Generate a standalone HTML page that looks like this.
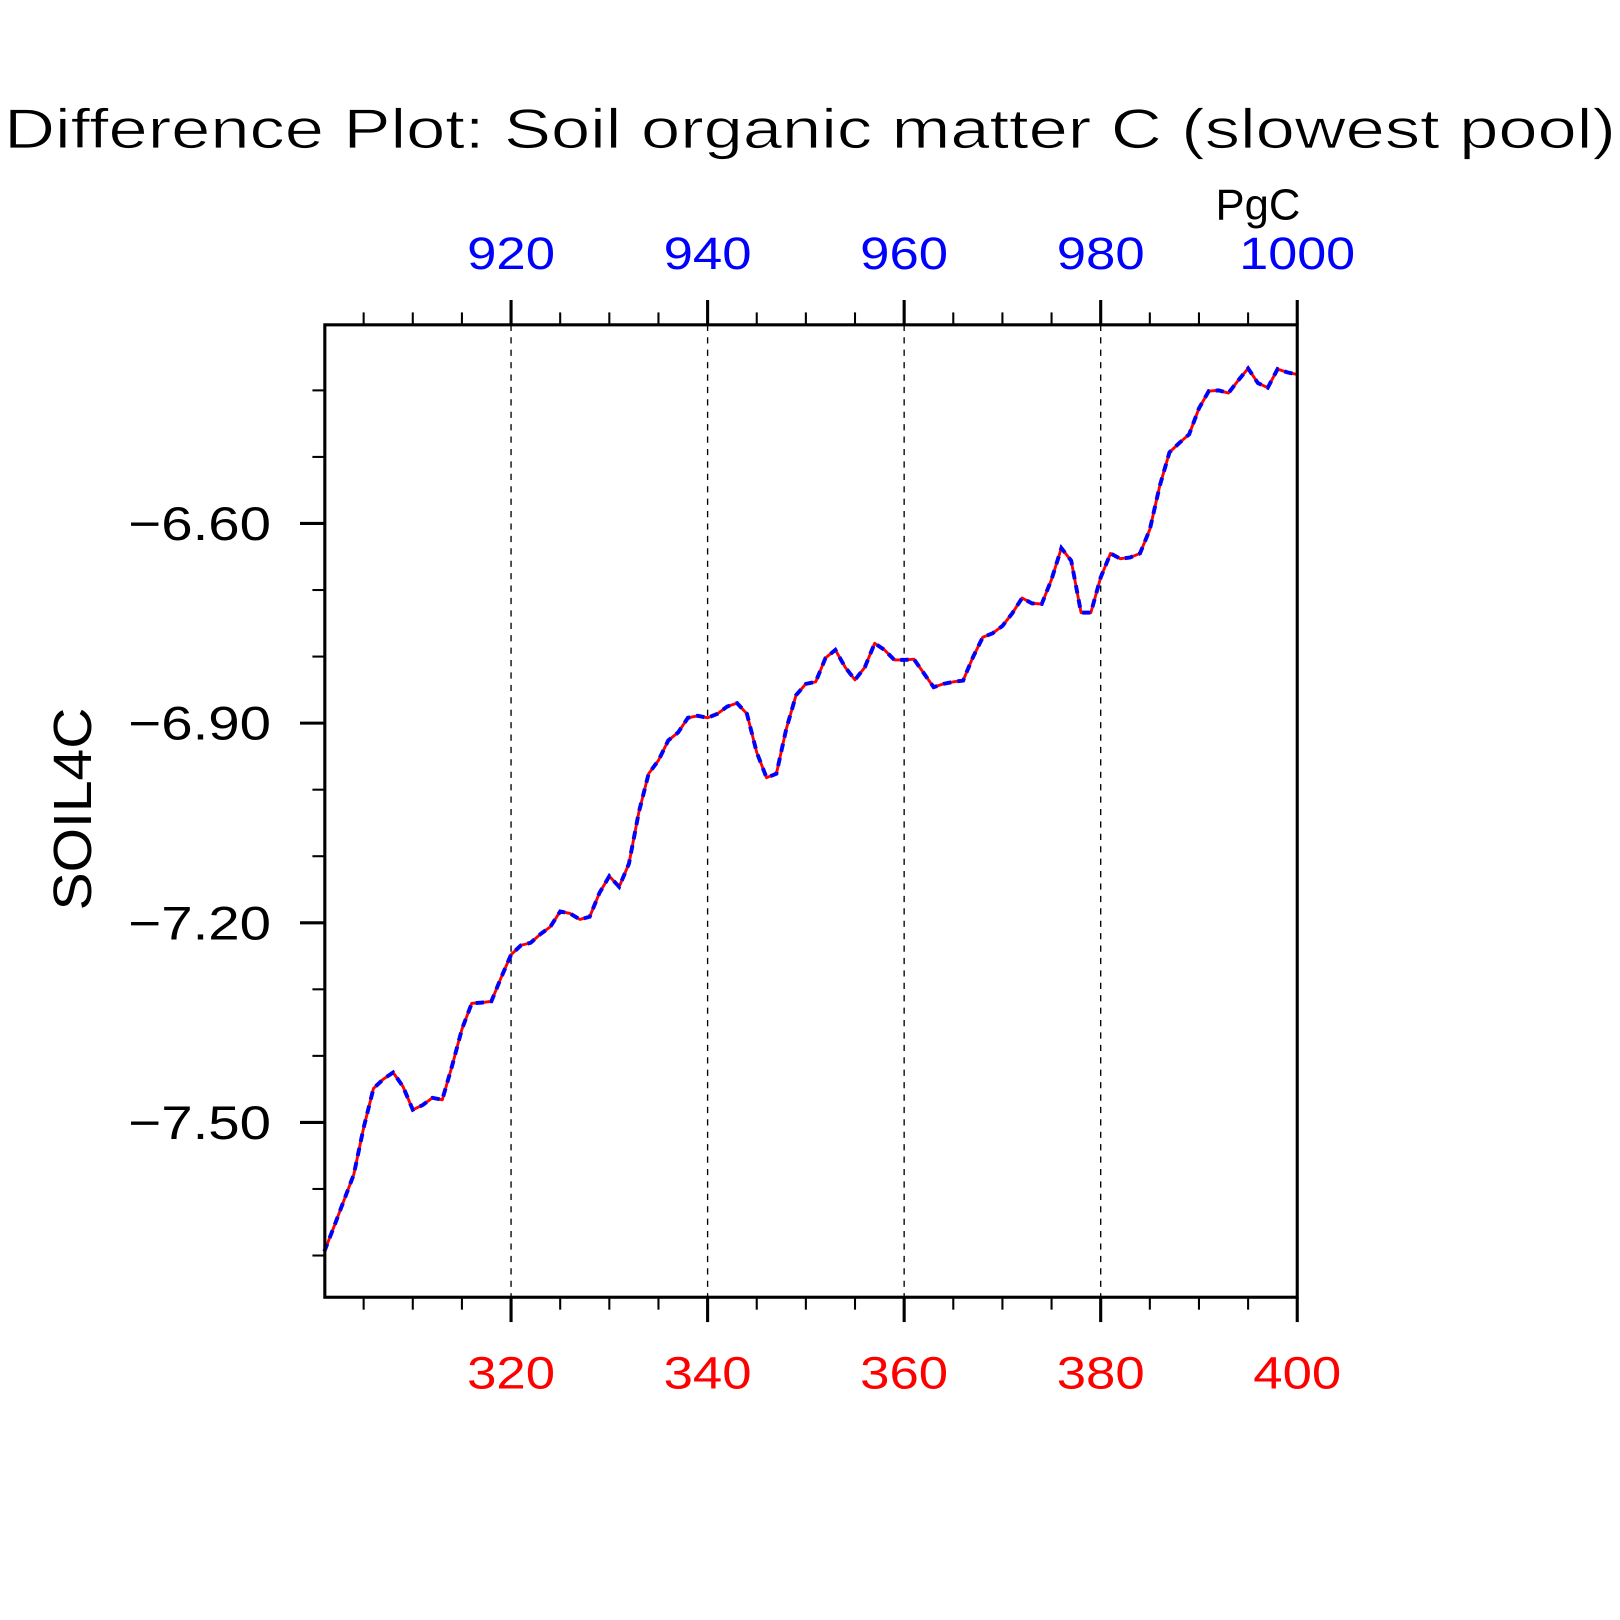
<!DOCTYPE html>
<html><head><meta charset="utf-8"><style>
html,body{margin:0;padding:0;background:#fff;}
svg{display:block;}
text{font-family:"Liberation Sans",sans-serif;}
</style></head><body>
<svg id="chart" width="1620" height="1620" viewBox="0 0 1566 1566" xmlns="http://www.w3.org/2000/svg">
<text x="4" y="143" font-size="54" textLength="1558" lengthAdjust="spacingAndGlyphs" fill="#000" stroke="#fff" stroke-width="0.8">Difference Plot: Soil organic matter C (slowest pool)</text>
<text x="1175" y="212" font-size="42" textLength="82" lengthAdjust="spacingAndGlyphs" fill="#000">PgC</text>
<text transform="translate(88,782) rotate(-90)" text-anchor="middle" font-size="52" textLength="196" lengthAdjust="spacingAndGlyphs" fill="#000">SOIL4C</text>
<g id="grid"></g>
<g id="ticks"></g>
<g id="series"></g>
<rect x="314" y="314" width="940" height="940" fill="none" stroke="#000" stroke-width="3"/>
</svg>
<script>
const years = [];
for (let y = 301; y <= 400; y++) years.push(y);
const soilValues = [-7.694,-7.656,-7.617,-7.578,-7.508,-7.449,-7.435,-7.425,-7.446,-7.481,
-7.474,-7.463,-7.466,-7.415,-7.360,-7.321,-7.320,-7.318,-7.282,-7.248,
-7.234,-7.230,-7.217,-7.206,-7.183,-7.186,-7.195,-7.191,-7.155,-7.130,
-7.146,-7.111,-7.034,-6.976,-6.956,-6.926,-6.914,-6.892,-6.889,-6.892,
-6.886,-6.875,-6.870,-6.886,-6.944,-6.982,-6.976,-6.909,-6.858,-6.841,
-6.838,-6.802,-6.790,-6.816,-6.835,-6.816,-6.780,-6.790,-6.805,-6.805,
-6.804,-6.825,-6.846,-6.841,-6.838,-6.836,-6.801,-6.771,-6.765,-6.754,
-6.735,-6.712,-6.720,-6.721,-6.684,-6.637,-6.656,-6.734,-6.734,-6.681,
-6.645,-6.653,-6.651,-6.645,-6.609,-6.544,-6.493,-6.479,-6.466,-6.427,
-6.401,-6.400,-6.404,-6.385,-6.367,-6.389,-6.396,-6.368,-6.373,-6.376];
const bottomTicks = [320,340,360,380,400];
const topTicks = [920,940,960,980,1000];
const yTicks = [-6.60,-6.90,-7.20,-7.50];
const yTickLabels = ["\u22126.60","\u22126.90","\u22127.20","\u22127.50"];

const X0=314,X1=1254,Y0=314,Y1=1254;
const xMin=301.05,xMax=400,yTop=-6.3015,yBot=-7.7627;
const xs=v=>X0+(v-xMin)/(xMax-xMin)*(X1-X0);
const xsTop=v=>xs(v-600);
const ys=v=>Y0+(yTop-v)/(yTop-yBot)*(Y1-Y0);
const NS="http://www.w3.org/2000/svg";
function mk(tag,attrs,parent){const e=document.createElementNS(NS,tag);for(const k in attrs)e.setAttribute(k,attrs[k]);parent.appendChild(e);return e;}
const grid=document.getElementById('grid'),ticks=document.getElementById('ticks'),series=document.getElementById('series'),svg=document.getElementById('chart');

bottomTicks.forEach((t,i)=>{
  const x=xs(t);
  if(t<400){const g=mk('line',{x1:x,x2:x,y1:Y0,y2:Y1,stroke:'#000','stroke-width':1.3,'stroke-dasharray':'6,6'},grid);
  
  }
  const lb=mk('text',{x:x,y:1342,'text-anchor':'middle','font-size':44,fill:'#ff0000',textLength:85,lengthAdjust:'spacingAndGlyphs'},svg);
  
  
  lb.textContent=t;
});
topTicks.forEach(t=>{
  const len=String(t).length===4?112:85;
  const lb=mk('text',{x:xsTop(t),y:260,'text-anchor':'middle','font-size':44,fill:'#0000ff',textLength:len,lengthAdjust:'spacingAndGlyphs'},svg);
  
  
  lb.textContent=t;
});
for(let v=305;v<=400;v+=5){
  const x=xs(v),maj=(v%20===0),L=maj?24:12,w=maj?3:2;
  const a=mk('line',{x1:x,x2:x,y1:Y0,y2:Y0-L,stroke:'#000','stroke-width':w},ticks);
  
  
  const b=mk('line',{x1:x,x2:x,y1:Y1,y2:Y1+L,stroke:'#000','stroke-width':w},ticks);
  
  
}
for(let k=-64;k>=-77;k--){
  const v=k/10,y=ys(v),maj=(k%3===0),L=maj?24:12,w=maj?3:2;
  const a=mk('line',{x1:X0,x2:X0-L,y1:y,y2:y,stroke:'#000','stroke-width':w},ticks);
  
  
}
yTicks.forEach((t,i)=>{
  const lb=mk('text',{x:262,y:ys(t)+16,'text-anchor':'end','font-size':46,fill:'#000',textLength:138,lengthAdjust:'spacingAndGlyphs'},svg);
  
  
  lb.textContent=yTickLabels[i];
});
const pts=years.map((yr,i)=>xs(yr)+','+ys(soilValues[i])).join(' ');
const red=mk('polyline',{points:pts,fill:'none',stroke:'#ff0000','stroke-width':2.8,'stroke-linejoin':'round'},series);


const blue=mk('polyline',{points:pts,fill:'none',stroke:'#0000ff','stroke-width':3.8,'stroke-dasharray':'8,6'},series);


</script>
</body></html>
